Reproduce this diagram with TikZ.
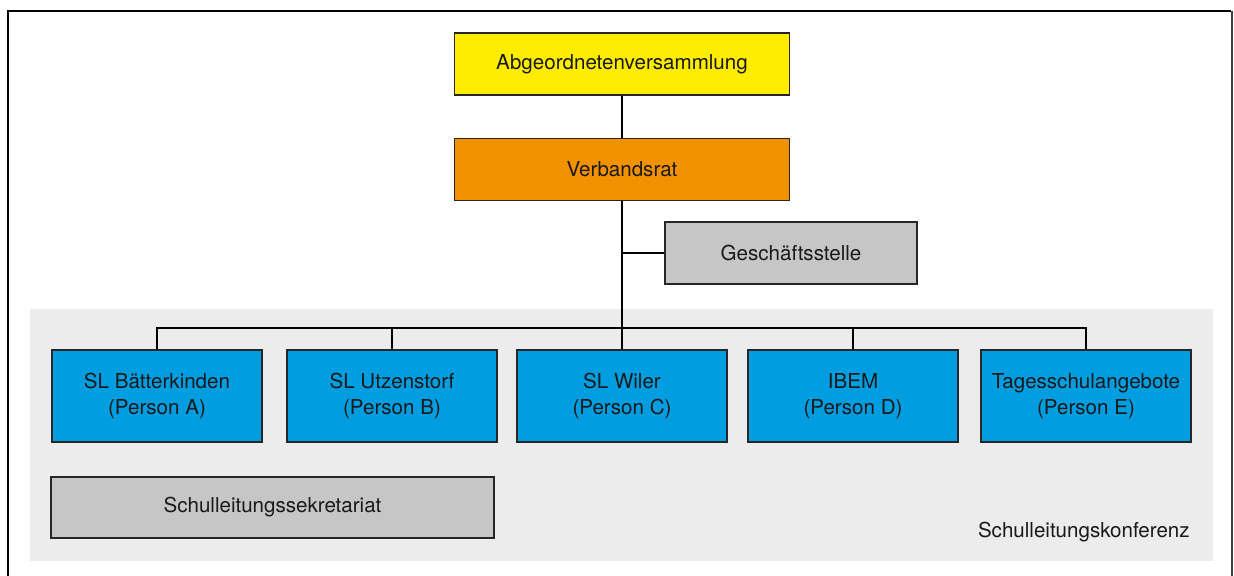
\documentclass[tikz,border=0pt]{standalone}
\usepackage{fontspec}
\setmainfont{TeX Gyre Heros}
\usepackage{tikz}
\usetikzlibrary{positioning, calc}
\definecolor{gelb}{HTML}{FFED00}
\definecolor{orange}{HTML}{F39200}
\definecolor{blau}{HTML}{009EE0}
\definecolor{grau}{HTML}{C6C6C7}
\definecolor{hell}{HTML}{ECECEC}
\tikzstyle{organ} = [rectangle, draw=black!85, line width=0.9pt, text=black!90, align=center, inner sep=0pt]
\tikzstyle{oben} = [organ, minimum width=6.7cm, minimum height=1.24cm]
\tikzstyle{schule} = [organ, fill=blau, minimum width=4.2cm, minimum height=1.84cm]
\tikzstyle{linie} = [draw=black, line width=1.1pt]

\begin{document}
\begin{tikzpicture}[font=\fontsize{11.7}{15}\selectfont]
\useasboundingbox (0,0) rectangle (24.68,-11.52);
% Rahmen
\fill[hell] (0.6,-6.18) rectangle (24.26,-11.22);
\draw[black, line width=1.4pt] (0.16,-11.6) -- (0.16,-0.22) -- (24.62,-0.22);
\draw[black!75, line width=0.6pt] (24.64,-0.22) -- (24.64,-11.6);
\node (abg) [oben, fill=gelb] at (12.44,-1.28) {Abgeordnetenversammlung};
\node (vr) [oben, fill=orange, below=0.84cm of abg] {Verbandsrat};
\node (gs) [organ, fill=grau, minimum width=5.04cm, minimum height=1.24cm] at (15.82,-5.06) {Geschäftsstelle};
\node (s1) [schule] at (3.14,-7.92) {SL Bätterkinden\\(Person A)};
\node (s2) [schule] at (7.84,-7.92) {SL Utzenstorf\\(Person B)};
\node (s3) [schule] at (12.44,-7.92) {SL Wiler\\(Person C)};
\node (s4) [schule] at (17.06,-7.92) {IBEM\\(Person D)};
\node (s5) [schule] at (21.72,-7.92) {Tagesschulangebote\\(Person E)};
\node (sek) [organ, fill=grau, minimum width=8.86cm, minimum height=1.22cm] at (5.45,-10.15) {Schulleitungssekretariat};
\node (slk) [anchor=east, text=black!90, inner sep=0pt] at (23.8,-10.64) {Schulleitungskonferenz};
\coordinate (bus) at (12.44,-6.56);
% Verbindungen
\draw [linie] (abg) -- (vr);
\draw [linie] (vr.south -| s3) -- (s3.north);
\draw [linie] (gs.west) -- (gs.west -| s3);
\draw [linie] (s1.north) |- (bus) -| (s5.north);
\draw [linie] (s2.north) -- (s2.north |- bus);
\draw [linie] (s4.north) -- (s4.north |- bus);
\end{tikzpicture}
\end{document}
